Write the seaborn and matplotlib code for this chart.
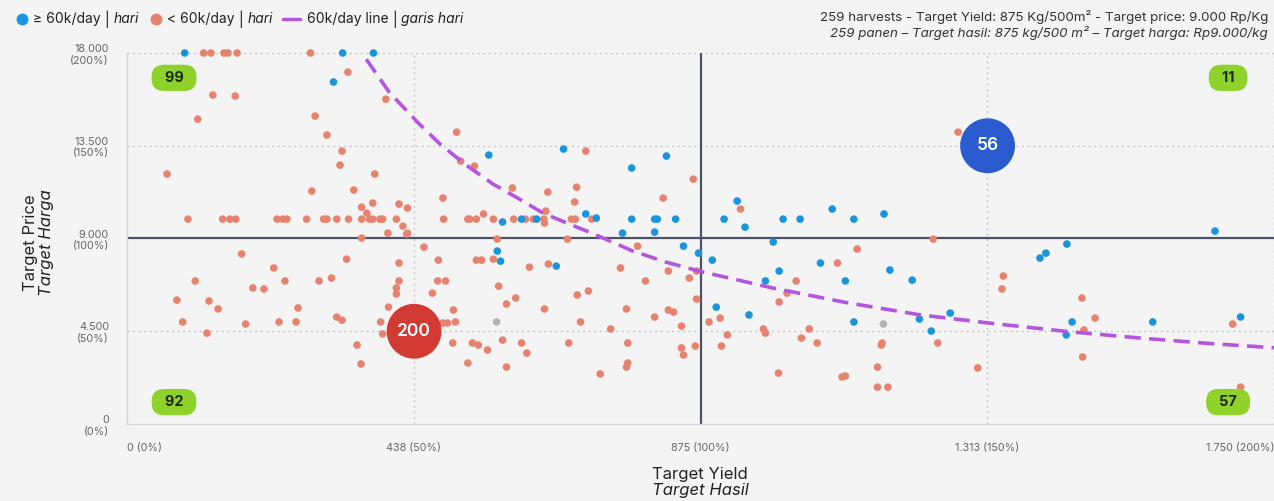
# Yield vs price scatter with quadrant counts

import numpy as np
import pandas as pd
import matplotlib.pyplot as plt
import seaborn as sns
from matplotlib.lines import Line2D

# ==========================================
# DATA
# ==========================================

# harvests at or above 60k/day
blue_yield = [88, 329, 376, 315, 552, 666, 770, 823, 700, 573, 602, 625, 716, 770,
              805, 809, 837, 756, 805, 931, 911, 943, 1001, 1027, 1076, 1109, 1155,
              1660, 986, 565, 570, 655, 849, 872, 893, 1058, 1164, 995, 974, 1096,
              1198, 1393, 1402, 1434, 1442, 1565, 1699, 1433, 899, 949, 1109, 1209,
              1227, 1256]
blue_price = [18000, 18000, 18000, 16590, 13050, 13340, 12420, 13000, 10190, 9800,
              9940, 9940, 9990, 9940, 9940, 9940, 9940, 9260, 9310, 10820, 9940, 9550,
              9940, 9940, 10430, 9940, 10190, 9360, 8830, 8390, 7900, 7660, 8630, 8290,
              7950, 7810, 7470, 7420, 6940, 6940, 6980, 8050, 8290, 8730, 4950, 4950,
              5190, 4320, 5670, 5290, 4950, 5090, 4510, 5380]

# harvests below 60k/day
red_yield = [117, 128, 148, 154, 168, 280, 337, 131, 165, 395, 108, 287, 305, 328,
             325, 61, 378, 282, 346, 375, 358, 366, 415, 428,
             93, 146, 157, 166, 229, 238, 244, 274, 300, 305, 320, 338, 358, 370,
             375, 386, 390, 411, 421, 398, 428, 358,
             503, 509, 530, 700, 864, 482, 588, 642, 686, 683, 818, 544, 639,
             483, 520, 523, 533, 559, 590, 608, 620, 636, 637, 678, 684, 709, 565, 672,
             1268, 936, 1230,
             1114, 1084, 1021, 1007, 995, 1337, 1335, 1457, 1477, 1687, 1460, 1458,
             1699, 888, 905, 916, 907, 971, 974, 1041, 1029, 1053, 1152, 1151, 1145,
             1145, 1161, 1091, 1096, 994, 1237, 1298,
             427, 453, 475, 533, 541, 559, 614, 643, 753, 779, 826, 869, 858, 791,
             474, 486, 567, 466, 687, 704, 593, 579, 869, 637, 762, 826, 834, 498,
             482, 489, 501, 692, 805, 846, 738, 573, 497, 527, 536, 550, 602, 610,
             674, 764, 846, 849, 867, 520, 579, 764, 762, 722,
             175, 335, 224, 415, 104, 241, 293, 312, 415, 192, 209, 411, 411, 76,
             125, 139, 261, 399, 320, 328, 85, 181, 232, 258, 387, 122, 390, 351, 357]
red_price = [18000, 18000, 18000, 18000, 18000, 18000, 17070, 15960, 15910, 15760,
             14790, 14940, 14020, 13240, 12560, 12130, 12130, 11300, 11350, 10720,
             10520, 10230, 10670, 10480,
             9940, 9940, 9940, 9940, 9940, 9940, 9940, 9940, 9940, 9940, 9940, 9940,
             9940, 9940, 9940, 9940, 9940, 9940, 9600, 9260, 9260, 9020,
             14160, 12760, 12510, 13240, 11880, 10960, 11450, 11250, 11490, 10770,
             10960, 10190, 10330,
             9940, 9940, 9940, 9940, 9940, 9940, 9940, 9940, 9940, 9750, 9940, 9940,
             9940, 8970, 8970,
             14160, 10430, 8970,
             8490, 7810, 6940, 6350, 5920, 7180, 6550, 6110, 5140, 4850, 4560, 3250,
             1790, 4950, 5140, 4320, 3780, 4610, 4410, 4610, 4170, 3930, 3930, 3830,
             2760, 1790, 1790, 2280, 2330, 2470, 3930, 2720,
             9220, 8580, 7950, 7950, 7950, 8000, 7610, 7760, 7570, 8630, 7420, 7420,
             7080, 6940, 6940, 6940, 6690, 6350, 6260, 6450, 6110, 5820, 6060, 5580,
             5580, 5530, 5430, 5530, 4900, 4900, 4950, 4950, 5190, 4750, 4610, 4070,
             3930, 3930, 3830, 3590, 3930, 3440, 3930, 3930, 3690, 3350, 3780, 2960,
             2760, 2960, 2760, 2430,
             8250, 8000, 7570, 7810, 6940, 6940, 6940, 7080, 6940, 6600, 6550, 6600,
             6310, 6010, 5970, 5580, 5630, 5670, 5190, 5040, 4950, 4850, 4950, 4950,
             4950, 4410, 4370, 3830, 2910]

# harvests without a day count
gray_yield = [564, 1154]
gray_price = [4950, 4850]

# 60k/day line
line_yield = [365, 400, 443, 477, 518, 558, 594, 634, 671, 710, 771, 823, 875,
              985, 1096, 1209, 1320, 1431, 1542, 1654, 1750]
line_price = [17700, 16100, 14650, 13600, 12550, 11650, 11000, 10250, 9750, 9250,
              8400, 7850, 7400, 6600, 5900, 5300, 4880, 4500, 4180, 3900, 3700]

# group centroids and counts
bubble_yield = [438, 1313]
bubble_price = [4500, 13500]
bubble_count = ["200", "56"]
bubble_color = ["#d23b33", "#2a5bcf"]

# quadrant counts: top-left, top-right, bottom-left, bottom-right
quadrant_counts = ["99", "11", "92", "57"]

target_yield = 875
target_price = 9000
x_ticks = [0, 437.5, 875, 1312.5, 1750]
x_tick_labels = ["0 (0%)", "438 (50%)", "875 (100%)", "1.313 (150%)", "1.750 (200%)"]
y_ticks = [0, 4500, 9000, 13500, 18000]
y_tick_labels = ["0\n(0%)", "4.500\n(50%)", "9.000\n(100%)", "13.500\n(150%)", "18.000\n(200%)"]

# ==========================================
# STYLE
# ==========================================

sns.set_theme(style="white")
plt.rcParams['font.family'] = ['Inter', 'DejaVu Sans']

BG = "#f4f4f4"
BLUE = "#1995e0"
SALMON = "#e7826f"
GRAY = "#b4b4b8"
PURPLE = "#b455e0"
W, H = 1274, 501

fig = plt.figure(figsize=(W / 100, H / 100), dpi=100, facecolor=BG)
ax = fig.add_axes([127 / W, 77 / H, 1 - 127 / W, 371 / H])
ax.set_facecolor(BG)

# ==========================================
# SCATTER
# ==========================================

df = pd.concat([
    pd.DataFrame({"yield": red_yield, "price": red_price, "group": "low"}),
    pd.DataFrame({"yield": gray_yield, "price": gray_price, "group": "none"}),
    pd.DataFrame({"yield": blue_yield, "price": blue_price, "group": "high"}),
], ignore_index=True)

sns.scatterplot(
    data=df, x="yield", y="price", hue="group",
    palette={"low": SALMON, "none": GRAY, "high": BLUE},
    s=30, edgecolor="none", linewidth=0, legend=False,
    clip_on=False, zorder=4, ax=ax
)

sns.lineplot(x=line_yield, y=line_price, color=PURPLE, linewidth=2.6,
             dashes=False, ax=ax, zorder=5, sort=False)
ax.lines[-1].set_dashes([4.5, 2.3])
ax.lines[-1].set_clip_on(False)

# reference lines
for v in [437.5, 1312.5, 1750]:
    ax.axvline(v, color="#c4c7cc", lw=1, ls=(0, (1.5, 2.5)), zorder=1, clip_on=False)
for v in [4500, 13500, 18000]:
    ax.axhline(v, color="#c4c7cc", lw=1, ls=(0, (1.5, 2.5)), zorder=1, clip_on=False)
ax.axvline(target_yield, color="#4d5167", lw=1.6, zorder=2)
ax.axhline(target_price, color="#4d5167", lw=1.6, zorder=2)

# centroid bubbles
ax.scatter(bubble_yield, bubble_price, s=1560, c=bubble_color, zorder=6,
           edgecolors="none")
for bx, by, label in zip(bubble_yield, bubble_price, bubble_count):
    ax.text(bx, by, label, color="white", fontsize=12.5, fontweight="semibold",
            ha="center", va="center", zorder=7)

# quadrant badges
badge_pos = [(0.041, 0.933), (0.96, 0.933), (0.041, 0.059), (0.96, 0.059)]
for (bx, by), label in zip(badge_pos, quadrant_counts):
    ax.text(bx, by, "  " + label + "  ", transform=ax.transAxes, fontsize=10.5,
            fontweight="bold", color="#1f2a12", ha="center", va="center", zorder=8,
            bbox=dict(boxstyle="round,pad=0.42,rounding_size=0.85",
                      facecolor="#8fd22c", edgecolor="none"))

# ==========================================
# AXES
# ==========================================

ax.set_xlim(0, 1750)
ax.set_ylim(0, 18000)
ax.set_xticks(x_ticks)
ax.set_xticklabels(x_tick_labels)
ax.set_yticks(y_ticks)
ax.set_yticklabels(y_tick_labels)
ax.tick_params(axis="both", length=3, width=0.8, color="#c8c8c8",
               labelsize=7.8, labelcolor="#666666")
ax.tick_params(axis="x", pad=11)
ax.tick_params(axis="y", pad=10)
labels = ax.get_xticklabels()
labels[0].set_ha("left")
labels[-1].set_ha("right")
ax.set_xlabel("")
ax.set_ylabel("")

for side in ["top", "right"]:
    ax.spines[side].set_visible(False)
for side in ["left", "bottom"]:
    ax.spines[side].set_color("#d6d6d6")
    ax.spines[side].set_linewidth(1)

# ==========================================
# TEXT AROUND THE PLOT
# ==========================================

def fx(px):
    return px / W

def fy(py):
    return 1 - py / H

fig.text(fx(30), fy(243), "Target Price", rotation=90, ha="center", va="center",
         fontsize=12, color="#222222")
fig.text(fx(47), fy(243), "Target Harga", rotation=90, ha="center", va="center",
         fontsize=12, color="#222222", fontstyle="italic")
fig.text(fx(700), fy(474), "Target Yield", ha="center", va="center",
         fontsize=12, color="#222222")
fig.text(fx(700), fy(491), "Target Hasil", ha="center", va="center",
         fontsize=12, color="#222222", fontstyle="italic")

fig.text(fx(1268), fy(17), "259 harvests - Target Yield: 875 Kg/500m² - Target price: 9.000 Rp/Kg",
         ha="right", va="center", fontsize=9.6, color="#333333")
fig.text(fx(1268), fy(33), "259 panen – Target hasil: 875 kg/500 m² – Target harga: Rp9.000/kg",
         ha="right", va="center", fontsize=9.6, color="#333333", fontstyle="italic")

# legend built from pieces so that part of each label can be italic
renderer = fig.canvas.get_renderer()

def text_row(x0, y0, pieces):
    x = x0
    for txt, style, gap in pieces:
        t = fig.text(fx(x), fy(y0), txt, ha="left", va="center", fontsize=10,
                     color="#222222", fontstyle=style)
        x += t.get_window_extent(renderer).width + gap
    return x

legend_y = 19
fig.add_artist(Line2D([fx(22)], [fy(legend_y)], marker="o", markersize=7.5,
                      color=BLUE, transform=fig.transFigure, linestyle="none"))
text_row(33, legend_y, [("≥ 60k/day", "normal", 4), ("|", "normal", 4), ("hari", "italic", 0)])
fig.add_artist(Line2D([fx(156)], [fy(legend_y)], marker="o", markersize=7.5,
                      color=SALMON, transform=fig.transFigure, linestyle="none"))
text_row(167, legend_y, [("< 60k/day", "normal", 4), ("|", "normal", 4), ("hari", "italic", 0)])
fig.add_artist(Line2D([fx(283), fx(300)], [fy(legend_y), fy(legend_y)], lw=2.5,
                      color=PURPLE, transform=fig.transFigure))
text_row(307, legend_y, [("60k/day line", "normal", 4), ("|", "normal", 4),
                         ("garis hari", "italic", 0)])

fig.savefig("out.png", dpi=100, facecolor=BG)
